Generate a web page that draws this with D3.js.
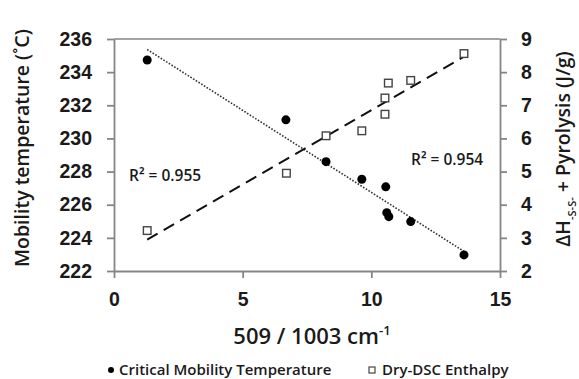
<!DOCTYPE html>
<html>
<head>
<meta charset="utf-8">
<script src="https://cdn.jsdelivr.net/npm/d3@7"></script>
<style>
  html, body { margin: 0; padding: 0; background: #fff; }
  svg { display: block; font-family: "Open Sans", "Liberation Sans", sans-serif; }
</style>
</head>
<body>
<svg id="chart" width="579" height="379"></svg>
<script>
// Critical mobility temperature (left axis) vs. 509/1003 cm-1 band ratio
const mobilityRatio = [1.29, 6.68, 8.24, 9.63, 10.56, 10.60, 10.68, 11.53, 13.60];
const mobilityTemp  = [234.73, 231.12, 228.60, 227.54, 227.08, 225.52, 225.28, 224.98, 222.97];

// Dry-DSC enthalpy (right axis) vs. the same band ratio
const enthalpyRatio = [1.29, 6.70, 8.24, 9.63, 10.53, 10.53, 10.66, 11.53, 13.60];
const enthalpyValue = [3.22, 4.95, 6.08, 6.23, 6.73, 7.22, 7.67, 7.75, 8.56];

const xTicks = [0, 5, 10, 15];
const leftTicks = [222, 224, 226, 228, 230, 232, 234, 236];
const rightTicks = [2, 3, 4, 5, 6, 7, 8, 9];
const r2Labels = ["R\u00B2 = 0.955", "R\u00B2 = 0.954"];
const legendLabels = ["Critical Mobility Temperature", "Dry-DSC Enthalpy"];

const svg = d3.select("#chart");
const axisColor = "#858585";
const textColor = "#1a1a1a";
const weight = 600;

const x = d3.scaleLinear().domain([0, 15]).range([114, 500]);
const yL = d3.scaleLinear().domain([222, 236]).range([271, 39]);
const yR = d3.scaleLinear().domain([2, 9]).range([271, 39]);

// least-squares fit, drawn over the data's x range
function fit(xs, ys) {
  const mx = d3.mean(xs), my = d3.mean(ys);
  let sxy = 0, sxx = 0;
  xs.forEach((v, i) => { sxy += (v - mx) * (ys[i] - my); sxx += (v - mx) * (v - mx); });
  const b = sxy / sxx, a = my - b * mx;
  const x0 = d3.min(xs), x1 = d3.max(xs);
  return [[x0, a + b * x0], [x1, a + b * x1]];
}

// plot frame top edge
svg.append("line")
  .attr("x1", x(0)).attr("x2", x(15))
  .attr("y1", yL(236)).attr("y2", yL(236))
  .attr("stroke", axisColor).attr("stroke-width", 1.5);

function styleAxis(g) {
  g.select(".domain").attr("stroke", axisColor).attr("stroke-width", 1.8);
  g.selectAll(".tick line").attr("stroke", axisColor).attr("stroke-width", 1.8);
  g.selectAll(".tick text")
    .attr("fill", textColor)
    .style("font-size", "19.5px")
    .style("font-weight", weight);
}

svg.append("g")
  .attr("transform", `translate(0,${yL(222)})`)
  .call(d3.axisBottom(x).tickValues(xTicks).tickSize(7).tickSizeOuter(0).tickPadding(14))
  .call(styleAxis);

svg.append("g")
  .attr("transform", `translate(${x(0)},0)`)
  .call(d3.axisLeft(yL).tickValues(leftTicks).tickSize(7).tickSizeOuter(0).tickPadding(15))
  .call(styleAxis);

svg.append("g")
  .attr("transform", `translate(${x(15)},0)`)
  .call(d3.axisRight(yR).tickValues(rightTicks).tickFormat(d3.format("d"))
    .tickSize(7).tickSizeOuter(0).tickPadding(14))
  .call(styleAxis);

// trendlines
const lineL = d3.line().x(d => x(d[0])).y(d => yL(d[1]));
const lineR = d3.line().x(d => x(d[0])).y(d => yR(d[1]));

svg.append("path")
  .attr("d", lineL(fit(mobilityRatio, mobilityTemp)))
  .attr("fill", "none").attr("stroke", "#333")
  .attr("stroke-width", 1.6).attr("stroke-dasharray", "1.6,1.6");

svg.append("path")
  .attr("d", lineR(fit(enthalpyRatio, enthalpyValue)))
  .attr("fill", "none").attr("stroke", "#111")
  .attr("stroke-width", 2).attr("stroke-dasharray", "12,7");

// markers
svg.append("g").selectAll("circle")
  .data(mobilityRatio.map((v, i) => [v, mobilityTemp[i]]))
  .join("circle")
  .attr("cx", d => x(d[0])).attr("cy", d => yL(d[1]))
  .attr("r", 4.5).attr("fill", "#000");

svg.append("g").selectAll("rect")
  .data(enthalpyRatio.map((v, i) => [v, enthalpyValue[i]]))
  .join("rect")
  .attr("x", d => x(d[0]) - 3.8).attr("y", d => yR(d[1]) - 3.8)
  .attr("width", 7.6).attr("height", 7.6)
  .attr("fill", "#fff").attr("stroke", "#444").attr("stroke-width", 1.4);

// R² annotations
svg.append("text").attr("x", 129).attr("y", 181)
  .attr("fill", textColor).style("font-size", "15.5px").style("font-weight", weight)
  .text(r2Labels[0]);
svg.append("text").attr("x", 411).attr("y", 165)
  .attr("fill", textColor).style("font-size", "15.5px").style("font-weight", weight)
  .text(r2Labels[1]);

// axis titles
svg.append("text")
  .attr("transform", "translate(29,148) rotate(-90)")
  .attr("text-anchor", "middle")
  .attr("fill", textColor).style("font-size", "19.5px").style("font-weight", weight)
  .text("Mobility temperature (\u02DAC)");

const rt = svg.append("text")
  .attr("transform", "translate(570,149) rotate(-90)")
  .attr("text-anchor", "middle")
  .attr("fill", textColor).style("font-size", "19.5px").style("font-weight", weight);
rt.append("tspan").text("\u0394H");
rt.append("tspan").attr("dy", 6).style("font-size", "11px").text("-S-S-");
rt.append("tspan").attr("dy", -6).text(" + Pyrolysis (J/g)");

const xt = svg.append("text")
  .attr("x", 312).attr("y", 344)
  .attr("text-anchor", "middle")
  .attr("fill", textColor).style("font-size", "22px").style("font-weight", weight);
xt.append("tspan").text("509 / 1003 cm");
xt.append("tspan").attr("dy", -9).style("font-size", "13px").text("-1");

// legend
const legend = svg.append("g").style("font-size", "15px").style("font-weight", weight);
legend.append("circle").attr("cx", 111).attr("cy", 370).attr("r", 3).attr("fill", "#000");
legend.append("text").attr("x", 119).attr("y", 375).attr("fill", textColor).text(legendLabels[0]);
legend.append("rect").attr("x", 369).attr("y", 367).attr("width", 6).attr("height", 6)
  .attr("fill", "#fff").attr("stroke", "#444").attr("stroke-width", 1.2);
legend.append("text").attr("x", 382).attr("y", 375).attr("fill", textColor).text(legendLabels[1]);
</script>
</body>
</html>
